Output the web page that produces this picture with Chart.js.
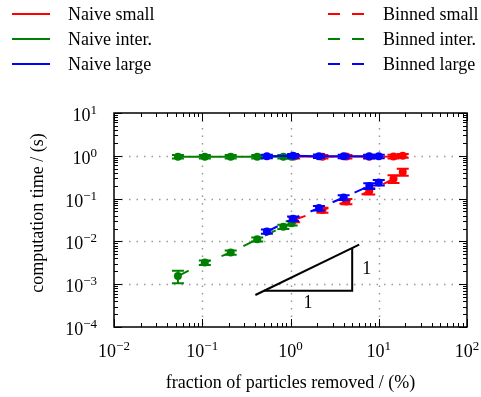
<!DOCTYPE html>
<html>
<head>
<meta charset="utf-8">
<script src="https://cdn.jsdelivr.net/npm/chart.js@4.4.0/dist/chart.umd.min.js"></script>
<style>
body { margin: 0; background: #fff; }
canvas { display: block; }
</style>
</head>
<body>
<canvas id="timingChart" width="481" height="397"></canvas>
<script>
// fraction of particles removed (%) for each run
const xSmall = [1.1, 2.3, 4.3, 7.8, 14.7, 18.7];
const xInter = [0.053, 0.107, 0.21, 0.42, 0.83, 1.03];
const xLarge = [0.54, 1.07, 2.1, 4.0, 7.8, 10];

// computation time (s), naive method
const naiveSmall = [0.96, 0.95, 0.96, 0.95, 0.96, 1.0];
const naiveInter = [0.95, 0.95, 0.95, 0.95, 0.95, 0.95];
const naiveLarge = [0.97, 1.0, 0.98, 0.97, 0.97, 0.97];
const naiveSmallErr = [0.09, 0.09, 0.09, 0.09, 0.1, 0.1];
const naiveInterErr = [0.09, 0.09, 0.09, 0.09, 0.09, 0.09];
const naiveLargeErr = [0.09, 0.1, 0.09, 0.09, 0.09, 0.09];

// computation time (s), binned method
const binnedSmall = [0.032, 0.054, 0.086, 0.15, 0.29, 0.42];
const binnedInter = [0.00155, 0.0032, 0.0055, 0.0112, 0.022, 0.0265];
const binnedLarge = [0.017, 0.034, 0.06, 0.106, 0.198, 0.238];
const binnedSmallErr = [0.004, 0.007, 0.012, 0.025, 0.06, 0.08];
const binnedInterErr = [0.0005, 0.0004, 0.0006, 0.0012, 0.0025, 0.003];
const binnedLargeErr = [0.002, 0.004, 0.007, 0.013, 0.03, 0.035];

// slope-1 guide triangle
const slopeX = [0.4, 6];
const slopeY = [0.00056, 0.0084];
const legX = [0.5, 5, 5];
const legY = [0.0007, 0.0007, 0.007];

// decade exponents for tick labels
const xTickExp = [-2, -1, 0, 1, 2];
const yTickExp = [-4, -3, -2, -1, 0, 1];

const RED = '#ff0000', GREEN = '#008000', BLUE = '#0000ff';
const FONT = '"Liberation Serif", "Times New Roman", serif';

function pts(xs, ys) {
    return xs.map((x, i) => ({ x: x, y: ys[i] }));
}

function series(label, xs, ys, errs, color, dashed) {
    return {
        label: label,
        data: pts(xs, ys),
        errors: errs,
        showLine: true,
        borderColor: color,
        backgroundColor: color,
        borderWidth: 2,
        borderDash: dashed ? [12, 12] : [],
        pointRadius: 4,
        pointBorderWidth: 0,
        pointBackgroundColor: color
    };
}

function guide(xs, ys) {
    return {
        label: '',
        data: pts(xs, ys),
        showLine: true,
        borderColor: '#000',
        borderWidth: 2,
        pointRadius: 0
    };
}

// lower index is drawn on top in Chart.js
const datasets = [
    guide(slopeX, slopeY),
    guide(legX, legY),
    series('Binned large', xLarge, binnedLarge, binnedLargeErr, BLUE, true),
    series('Binned inter.', xInter, binnedInter, binnedInterErr, GREEN, true),
    series('Binned small', xSmall, binnedSmall, binnedSmallErr, RED, true),
    series('Naive large', xLarge, naiveLarge, naiveLargeErr, BLUE, false),
    series('Naive inter.', xInter, naiveInter, naiveInterErr, GREEN, false),
    series('Naive small', xSmall, naiveSmall, naiveSmallErr, RED, false)
];

// legend rows: [label, color, dashed, column]
const legendRows = [
    ['Naive small', RED, false, 0], ['Naive inter.', GREEN, false, 0], ['Naive large', BLUE, false, 0],
    ['Binned small', RED, true, 1], ['Binned inter.', GREEN, true, 1], ['Binned large', BLUE, true, 1]
];

// error bars under each dataset's markers
const errorBars = {
    id: 'errorBars',
    beforeDatasetDraw(chart, args) {
        const ds = chart.data.datasets[args.index];
        if (!ds.errors) return;
        const ctx = chart.ctx, xs = chart.scales.x, ys = chart.scales.y;
        ctx.save();
        ctx.strokeStyle = ds.borderColor;
        ctx.lineWidth = 2;
        ctx.setLineDash([]);
        ds.data.forEach((p, i) => {
            const px = xs.getPixelForValue(p.x);
            const top = ys.getPixelForValue(p.y + ds.errors[i]);
            const bot = ys.getPixelForValue(p.y - ds.errors[i]);
            ctx.beginPath();
            ctx.moveTo(px, top); ctx.lineTo(px, bot);
            ctx.moveTo(px - 6, top); ctx.lineTo(px + 6, top);
            ctx.moveTo(px - 6, bot); ctx.lineTo(px + 6, bot);
            ctx.stroke();
        });
        ctx.restore();
    }
};

function drawPow(ctx, exp, x, baseY, align) {
    const sup = exp < 0 ? '\u2212' + (-exp) : String(exp);
    ctx.font = '18px ' + FONT;
    const w1 = ctx.measureText('10').width;
    ctx.font = '13px ' + FONT;
    const w2 = ctx.measureText(sup).width;
    const left = align === 'center' ? x - (w1 + w2) / 2 : x - w1 - w2;
    ctx.textAlign = 'left';
    ctx.textBaseline = 'alphabetic';
    ctx.font = '18px ' + FONT;
    ctx.fillText('10', left, baseY);
    ctx.font = '13px ' + FONT;
    ctx.fillText(sup, left + w1, baseY - 7);
}

function decadeTicks(minExp, maxExp) {
    const list = [];
    for (let e = minExp; e <= maxExp; e++) {
        list.push({ v: Math.pow(10, e), major: true });
        if (e < maxExp) {
            for (let k = 2; k <= 9; k++) list.push({ v: k * Math.pow(10, e), major: false });
        }
    }
    return list;
}

const axesDecor = {
    id: 'axesDecor',
    beforeDatasetsDraw(chart) {
        const ctx = chart.ctx, a = chart.chartArea;
        const xs = chart.scales.x, ys = chart.scales.y;
        ctx.save();
        ctx.strokeStyle = '#9a9a9a';
        ctx.lineWidth = 1.5;
        ctx.setLineDash([1.5, 6]);
        xTickExp.slice(1, -1).forEach(e => {
            const px = Math.round(xs.getPixelForValue(Math.pow(10, e))) + 0.5;
            ctx.beginPath(); ctx.moveTo(px, a.top); ctx.lineTo(px, a.bottom); ctx.stroke();
        });
        yTickExp.slice(1, -1).forEach(e => {
            const py = Math.round(ys.getPixelForValue(Math.pow(10, e))) + 0.5;
            ctx.beginPath(); ctx.moveTo(a.left, py); ctx.lineTo(a.right, py); ctx.stroke();
        });
        ctx.restore();
    },
    afterDraw(chart) {
        const ctx = chart.ctx, a = chart.chartArea;
        const xs = chart.scales.x, ys = chart.scales.y;
        ctx.save();
        ctx.setLineDash([]);
        ctx.strokeStyle = '#000';
        ctx.lineWidth = 1;

        // inward ticks on all four sides
        decadeTicks(xTickExp[0], xTickExp[xTickExp.length - 1]).forEach(t => {
            const px = Math.round(xs.getPixelForValue(t.v)) + 0.5;
            const len = t.major ? 8 : 4;
            ctx.beginPath();
            ctx.moveTo(px, a.bottom); ctx.lineTo(px, a.bottom - len);
            ctx.moveTo(px, a.top); ctx.lineTo(px, a.top + len);
            ctx.stroke();
        });
        decadeTicks(yTickExp[0], yTickExp[yTickExp.length - 1]).forEach(t => {
            const py = Math.round(ys.getPixelForValue(t.v)) + 0.5;
            const len = t.major ? 8 : 4;
            ctx.beginPath();
            ctx.moveTo(a.left, py); ctx.lineTo(a.left + len, py);
            ctx.moveTo(a.right, py); ctx.lineTo(a.right - len, py);
            ctx.stroke();
        });
        ctx.lineWidth = 1.5;
        ctx.strokeRect(a.left, a.top, a.right - a.left, a.bottom - a.top);

        // tick labels
        ctx.fillStyle = '#000';
        xTickExp.forEach(e => drawPow(ctx, e, xs.getPixelForValue(Math.pow(10, e)), 357, 'center'));
        yTickExp.forEach(e => drawPow(ctx, e, 97, ys.getPixelForValue(Math.pow(10, e)) + 8, 'right'));

        // axis titles
        ctx.font = '18px ' + FONT;
        ctx.textAlign = 'center';
        ctx.textBaseline = 'middle';
        ctx.fillText('fraction of particles removed / (%)', (a.left + a.right) / 2, 383);
        ctx.save();
        ctx.translate(38, 213);
        ctx.rotate(-Math.PI / 2);
        ctx.fillText('computation time / (s)', 0, 0);
        ctx.restore();

        // slope labels
        const baseMidX = Math.sqrt(legX[0] * legX[1]);
        const vertMidY = Math.sqrt(legY[1] * legY[2]);
        ctx.fillText('1', xs.getPixelForValue(baseMidX), ys.getPixelForValue(legY[0]) + 12);
        ctx.textAlign = 'left';
        ctx.fillText('1', xs.getPixelForValue(legX[1]) + 10, ys.getPixelForValue(vertMidY));

        // legend
        const colLine = [[12, 50], [328, 364]];
        const colText = [68, 383];
        const rowY = [14, 39, 64];
        legendRows.forEach((r, i) => {
            const y = rowY[i % 3];
            const c = r[3];
            ctx.strokeStyle = r[1];
            ctx.lineWidth = 2;
            ctx.setLineDash(r[2] ? [12, 12] : []);
            ctx.beginPath();
            ctx.moveTo(colLine[c][0], y); ctx.lineTo(colLine[c][1], y);
            ctx.stroke();
            ctx.setLineDash([]);
            ctx.fillStyle = '#000';
            ctx.font = '18px ' + FONT;
            ctx.textAlign = 'left';
            ctx.textBaseline = 'alphabetic';
            ctx.fillText(r[0], colText[c], y + 6);
        });
        ctx.restore();
    }
};

const ctx = document.getElementById('timingChart').getContext('2d');
const timingChart = new Chart(ctx, {
    type: 'scatter',
    data: { datasets: datasets },
    options: {
        responsive: false,
        devicePixelRatio: 1,
        animation: false,
        layout: { padding: { left: 114, right: 14, top: 113, bottom: 70 } },
        scales: {
            x: { type: 'logarithmic', min: 0.01, max: 100, display: false },
            y: { type: 'logarithmic', min: 0.0001, max: 10, display: false }
        },
        plugins: {
            legend: { display: false },
            tooltip: { enabled: false }
        }
    },
    plugins: [errorBars, axesDecor]
});
</script>
</body>
</html>
